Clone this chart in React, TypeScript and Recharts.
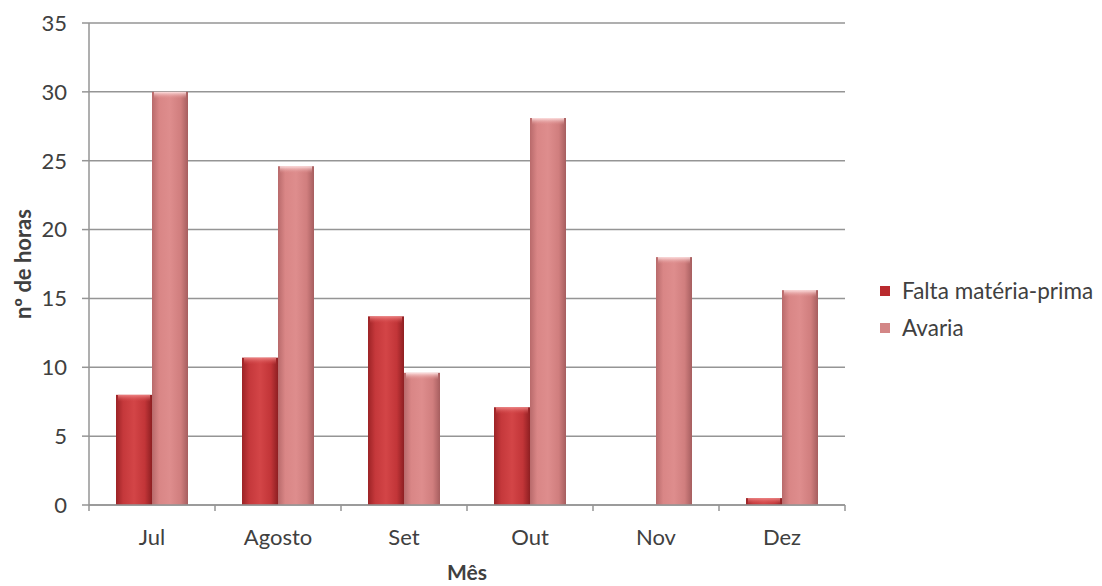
import { BarChart, Bar, XAxis, YAxis, CartesianGrid, Label } from "recharts";

const months = ["Jul", "Agosto", "Set", "Out", "Nov", "Dez"];
const faltaMateriaPrima = [8, 10.7, 13.7, 7.1, 0, 0.5];
const avaria = [30, 24.6, 9.6, 28.1, 18, 15.6];
const yTicks = [0, 5, 10, 15, 20, 25, 30, 35];
const seriesNames = ["Falta matéria-prima", "Avaria"];

const data = months.map((mes, i) => ({
  mes,
  falta: faltaMateriaPrima[i],
  avaria: avaria[i],
}));

const FONT = "Lato, 'Open Sans', sans-serif";
const TEXT = "#404040";
const GRID = "#959595";
const legendColors = ["#b92a2e", "#d38686"];

const W = 1102;
const H = 586;
const margin = { top: 23, right: 257, left: 0, bottom: 0 };
const yAxisWidth = 89;
const bandWidth = (W - margin.left - margin.right - yAxisWidth) / months.length;

// bar with horizontal shading and a light bevel on top
const BevelBar = (props: any) => {
  const { x, y, width, height, gradId, capId } = props;
  if (!height || height <= 0) return null;
  const cap = Math.min(7, height);
  return (
    <g>
      <rect x={x} y={y} width={width} height={height} fill={`url(#${gradId})`} />
      <rect x={x + 2} y={y} width={width - 4} height={cap} fill={`url(#${capId})`} />
    </g>
  );
};

// month label plus tick marks on category boundaries
const MonthTick = (props: any) => {
  const { x, y, payload, index } = props;
  const axisY = y - 8;
  const left = x - bandWidth / 2;
  const right = x + bandWidth / 2;
  return (
    <g>
      <line x1={left} y1={axisY} x2={left} y2={axisY + 6} stroke={GRID} strokeWidth={1.5} />
      {index === months.length - 1 && (
        <line x1={right} y1={axisY} x2={right} y2={axisY + 6} stroke={GRID} strokeWidth={1.5} />
      )}
      <text x={x} y={y + 32} textAnchor="middle" fill={TEXT} fontSize={22} fontFamily={FONT}>
        {payload.value}
      </text>
    </g>
  );
};

const SideLegend = () => (
  <div
    style={{
      position: "absolute",
      left: 880,
      top: 272,
      fontFamily: FONT,
      fontSize: 22.5,
      color: TEXT,
      whiteSpace: "nowrap",
    }}
  >
    {seriesNames.map((name, i) => (
      <div key={name} style={{ display: "flex", alignItems: "center", height: 37 }}>
        <span
          style={{
            display: "inline-block",
            width: 10,
            height: 10,
            background: legendColors[i],
            marginRight: 12,
          }}
        />
        <span>{name}</span>
      </div>
    ))}
  </div>
);

export default function App() {
  return (
    <div style={{ position: "absolute", left: 0, top: 0, width: W, height: H, background: "#fff" }}>
      <BarChart
        width={W}
        height={H}
        data={data}
        margin={margin}
        barCategoryGap={27}
        barGap={0}
      >
        <defs>
          <linearGradient id="gFalta" x1="0" y1="0" x2="1" y2="0">
            <stop offset="0%" stopColor="#9c2326" />
            <stop offset="20%" stopColor="#c5383b" />
            <stop offset="50%" stopColor="#d34547" />
            <stop offset="80%" stopColor="#c23538" />
            <stop offset="100%" stopColor="#8e1f22" />
          </linearGradient>
          <linearGradient id="gAvaria" x1="0" y1="0" x2="1" y2="0">
            <stop offset="0%" stopColor="#b86a6b" />
            <stop offset="20%" stopColor="#d98686" />
            <stop offset="50%" stopColor="#de8d8d" />
            <stop offset="80%" stopColor="#d07e7e" />
            <stop offset="100%" stopColor="#a65e5f" />
          </linearGradient>
          <linearGradient id="capFalta" x1="0" y1="0" x2="0" y2="1">
            <stop offset="0%" stopColor="#f08a8a" stopOpacity={0.9} />
            <stop offset="100%" stopColor="#d34547" stopOpacity={0} />
          </linearGradient>
          <linearGradient id="capAvaria" x1="0" y1="0" x2="0" y2="1">
            <stop offset="0%" stopColor="#ffe6e6" stopOpacity={0.95} />
            <stop offset="100%" stopColor="#de8d8d" stopOpacity={0} />
          </linearGradient>
        </defs>
        <CartesianGrid vertical={false} stroke={GRID} strokeWidth={1.5} />
        <XAxis
          dataKey="mes"
          height={81}
          axisLine={{ stroke: GRID, strokeWidth: 1.5 }}
          tickLine={false}
          tick={<MonthTick />}
          interval={0}
        >
          <Label
            content={(p: any) => (
              <text
                x={p.viewBox.x + p.viewBox.width / 2}
                y={580}
                textAnchor="middle"
                fill={TEXT}
                fontSize={21}
                fontWeight="bold"
                fontFamily={FONT}
              >
                Mês
              </text>
            )}
          />
        </XAxis>
        <YAxis
          width={yAxisWidth}
          domain={[0, 35]}
          ticks={yTicks}
          interval={0}
          axisLine={{ stroke: GRID, strokeWidth: 1.5 }}
          tickLine={{ stroke: GRID, strokeWidth: 1.5 }}
          tickSize={7}
          tickMargin={15}
          tick={{ fill: TEXT, fontSize: 22, fontFamily: FONT }}
        >
          <Label
            content={(p: any) => {
              const cy = p.viewBox.y + p.viewBox.height / 2;
              return (
                <text
                  x={22}
                  y={cy}
                  transform={`rotate(-90, 22, ${cy})`}
                  textAnchor="middle"
                  dominantBaseline="central"
                  fill={TEXT}
                  fontSize={22}
                  fontWeight="bold"
                  fontFamily={FONT}
                >
                  nº de horas
                </text>
              );
            }}
          />
        </YAxis>
        <Bar
          dataKey="falta"
          name={seriesNames[0]}
          fill="#c5383b"
          isAnimationActive={false}
          shape={(p: any) => <BevelBar {...p} gradId="gFalta" capId="capFalta" />}
        />
        <Bar
          dataKey="avaria"
          name={seriesNames[1]}
          fill="#d98686"
          isAnimationActive={false}
          shape={(p: any) => <BevelBar {...p} gradId="gAvaria" capId="capAvaria" />}
        />
      </BarChart>
      <SideLegend />
    </div>
  );
}
